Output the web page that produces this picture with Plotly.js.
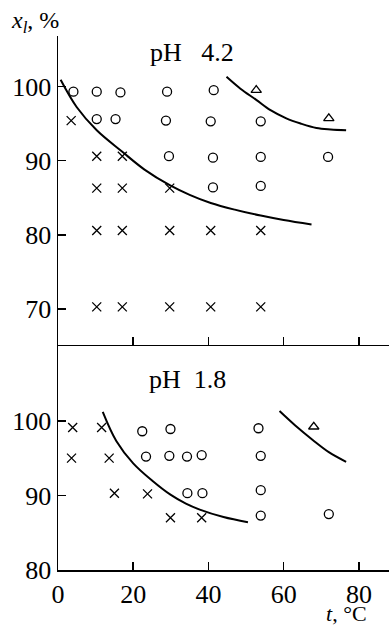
<!DOCTYPE html>
<html>
<head>
<meta charset="utf-8">
<script src="https://cdn.plot.ly/plotly-3.0.1.min.js"></script>
<style>
  html, body { margin: 0; padding: 0; background: #fff; }
  #chart { width: 389px; height: 625px; }
</style>
</head>
<body>
<div id="chart"></div>
<script>
// pH 4.2 panel: experimental points (t, °C ; x_l, %)
const ph42CrossT  = [3.5, 10.3, 17.1, 10.3, 17.1, 29.7, 10.3, 17.1, 29.7, 40.6, 53.9, 10.3, 17.1, 29.7, 40.6, 53.9];
const ph42CrossX  = [95.4, 90.6, 90.6, 86.3, 86.3, 86.3, 80.6, 80.6, 80.6, 80.6, 80.6, 70.3, 70.3, 70.3, 70.3, 70.3];
const ph42CircT   = [4.1, 10.3, 16.6, 29.0, 41.4, 10.3, 15.3, 28.7, 40.6, 53.9, 29.5, 41.2, 53.9, 71.8, 41.2, 53.9];
const ph42CircX   = [99.3, 99.3, 99.2, 99.3, 99.5, 95.6, 95.6, 95.4, 95.3, 95.3, 90.6, 90.4, 90.5, 90.5, 86.4, 86.6];
const ph42TriT    = [52.7, 72.0];
const ph42TriX    = [99.5, 95.7];
// pH 4.2 boundary curves
const ph42LowerT  = [0.7, 5, 10.3, 17.1, 23, 29.7, 35, 40.6, 47, 53.9, 60, 67.4];
const ph42LowerX  = [100.9, 97.2, 94.1, 91.2, 88.8, 86.7, 85.4, 84.3, 83.4, 82.6, 82.0, 81.4];
const ph42UpperT  = [44.8, 48.5, 52.7, 56.5, 60.7, 64.5, 68.7, 72.5, 76.6];
const ph42UpperX  = [101.3, 99.7, 98.2, 96.8, 95.7, 95.0, 94.4, 94.2, 94.1];

// pH 1.8 panel: experimental points
const ph18CrossT  = [3.9, 11.6, 3.6, 13.6, 15.0, 23.8, 29.9, 38.2];
const ph18CrossX  = [99.1, 99.1, 95.0, 95.0, 90.3, 90.2, 87.0, 87.0];
const ph18CircT   = [22.4, 29.9, 23.4, 29.6, 34.3, 38.2, 34.4, 38.4, 53.3, 53.9, 53.9, 53.9, 72.0];
const ph18CircX   = [98.6, 98.9, 95.2, 95.3, 95.2, 95.4, 90.3, 90.3, 99.0, 95.3, 90.7, 87.3, 87.5];
const ph18TriT    = [68.0];
const ph18TriX    = [99.2];
// pH 1.8 boundary curves
const ph18LowerT  = [11.9, 15.5, 20.0, 25, 29.9, 34, 37.7, 44, 50.5];
const ph18LowerX  = [101.2, 97.3, 94.3, 92.0, 90.1, 88.9, 88.1, 87.1, 86.4];
const ph18UpperT  = [58.9, 63, 67.8, 72, 76.6];
const ph18UpperX  = [101.3, 99.4, 97.4, 95.8, 94.5];

// Axis ticks
const tTicks      = [0, 20, 40, 60, 80];
const ph42Ticks   = [70, 80, 90, 100];
const ph18Ticks   = [80, 90, 100];

const FONT = 'Liberation Serif';
const INK = '#000';

function pts(x, y, symbol, xa, ya) {
  return {
    x: x, y: y, xaxis: xa, yaxis: ya, type: 'scatter', mode: 'markers',
    marker: { symbol: symbol, size: 9, color: INK, line: { color: INK, width: 1.3 } },
    hoverinfo: 'skip', showlegend: false, cliponaxis: false
  };
}
function curve(x, y, xa, ya) {
  return {
    x: x, y: y, xaxis: xa, yaxis: ya, type: 'scatter', mode: 'lines',
    line: { color: INK, width: 2, shape: 'spline', smoothing: 1 },
    hoverinfo: 'skip', showlegend: false
  };
}

const data = [
  curve(ph42LowerT, ph42LowerX, 'x2', 'y2'),
  curve(ph42UpperT, ph42UpperX, 'x2', 'y2'),
  pts(ph42CrossT, ph42CrossX, 'x-thin-open', 'x2', 'y2'),
  pts(ph42CircT, ph42CircX, 'circle-open', 'x2', 'y2'),
  pts(ph42TriT, ph42TriX, 'triangle-up-open', 'x2', 'y2'),
  curve(ph18LowerT, ph18LowerX, 'x', 'y'),
  curve(ph18UpperT, ph18UpperX, 'x', 'y'),
  pts(ph18CrossT, ph18CrossX, 'x-thin-open', 'x', 'y'),
  pts(ph18CircT, ph18CircX, 'circle-open', 'x', 'y'),
  pts(ph18TriT, ph18TriX, 'triangle-up-open', 'x', 'y')
];

const split = 0.4219;
const common = {
  showgrid: false, zeroline: false, showline: true,
  linecolor: INK, linewidth: 1.5,
  ticks: 'inside', ticklen: 8, tickwidth: 1.5, tickcolor: INK,
  tickfont: { family: FONT, size: 26, color: INK }
};

const layout = {
  width: 389, height: 625,
  margin: { l: 58, r: 0, t: 36, b: 55 },
  paper_bgcolor: '#fff', plot_bgcolor: '#fff',
  font: { family: FONT, color: INK },
  xaxis: Object.assign({}, common, {
    range: [0, 88], tickmode: 'array', tickvals: tTicks, anchor: 'y'
  }),
  yaxis: Object.assign({}, common, {
    range: [80, 110.2], domain: [0, split], tickmode: 'array', tickvals: ph18Ticks, anchor: 'x'
  }),
  xaxis2: Object.assign({}, common, {
    range: [0, 88], tickmode: 'array', tickvals: tTicks, showticklabels: false, anchor: 'y2', matches: 'x'
  }),
  yaxis2: Object.assign({}, common, {
    range: [65.2, 106.8], domain: [split, 1], tickmode: 'array', tickvals: ph42Ticks, anchor: 'x2'
  }),
  annotations: [
    { text: 'pH   4.2', xref: 'x2', yref: 'y2', x: 35.7, y: 104.6, showarrow: false,
      font: { family: FONT, size: 26, color: INK } },
    { text: 'pH  1.8', xref: 'x', yref: 'y', x: 34.5, y: 105.5, showarrow: false,
      font: { family: FONT, size: 26, color: INK } },
    { text: '<i>x</i><sub><i>l</i></sub>, %', xref: 'paper', yref: 'paper',
      x: -0.148, y: 1.026, xanchor: 'left', yanchor: 'middle', showarrow: false,
      font: { family: FONT, size: 24, color: INK } },
    { text: '<i>t</i>, °C', xref: 'paper', yref: 'paper',
      x: 0.873, y: -0.081, xanchor: 'center', yanchor: 'middle', showarrow: false,
      font: { family: FONT, size: 22, color: INK } }
  ]
};

Plotly.newPlot('chart', data, layout, { staticPlot: true, displayModeBar: false });
</script>
</body>
</html>
